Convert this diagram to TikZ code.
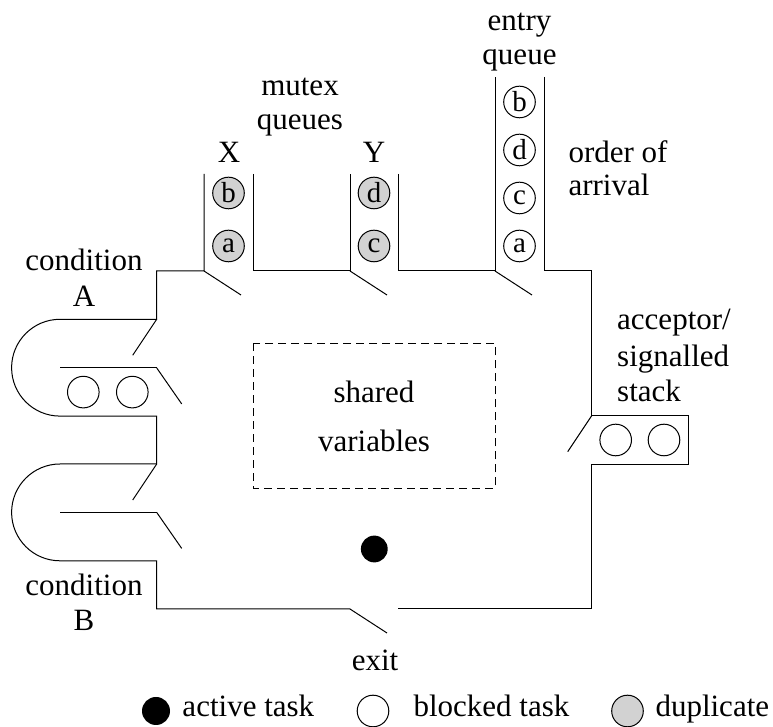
\documentclass[tikz,border=0pt]{standalone}
\usepackage{fontspec}
\setmainfont{Liberation Serif}
\usepackage{tikz}

\begin{document}
\begin{tikzpicture}[x=0.5pt, y=-0.5pt, line width=0.5pt,
		task/.style={circle, draw, minimum size=15.8pt, inner sep=0pt, font=\fontsize{14.5}{16}\selectfont},
		dup/.style={task, fill=gray!35},
		active/.style={circle, fill=black, minimum size=13.4pt, inner sep=0pt},
		lbl/.style={anchor=base, inner sep=0pt, font=\fontsize{15.5}{18}\selectfont},
		lblw/.style={lbl, anchor=base west}]
					\def\wt{271};
					\def\wl{156.7};
					\def\wr{591.7};
					\def\wb{609};
					\def\rc{24.2pt};

					\useasboundingbox (0,0) rectangle (773,727);

					\begin{scope}
						% monitor walls
						\draw (204,174) -- (204,\wt) -- (\wl,\wt) -- (\wl,319.3) -- (60,319.3)
							arc[start angle=90, end angle=270, radius=\rc] -- (\wl,416.1) -- (\wl,464) -- (60,464)
							arc[start angle=90, end angle=270, radius=\rc] -- (\wl,560.8) -- (\wl,\wb) -- (350,\wb);
						\draw (253,174) -- (253,\wt) -- (350,\wt) -- (350,174);
						\draw (398,174) -- (398,\wt) -- (495,\wt) -- (495,77);
						\draw (544,77) -- (544,\wt) -- (\wr,\wt) -- (\wr,415.7) -- (688.3,415.7)
							-- (688.3,464.3) -- (\wr,464.3) -- (\wr,\wb) -- (398.3,\wb);
						\draw (60,367.9) -- (\wl,367.9);
						\draw (60,512.4) -- (\wl,512.4);
						\draw[dash pattern=on 4pt off 2.5pt] (253,343.3) rectangle (495,488.3);
					\end{scope}

					\begin{scope}
						% gates
						\draw (204,\wt) -- ++(37,24);
						\draw (350,\wt) -- ++(37,24);
						\draw (495,\wt) -- ++(37,24);
						\draw (\wl,319.3) -- ++(-24,36);
						\draw (\wl,367.9) -- ++(25,36);
						\draw (\wl,464) -- ++(-24,36);
						\draw (\wl,512.4) -- ++(25,36);
						\draw (\wr,415.7) -- ++(-24,36);
						\draw (350,\wb) -- ++(37,24);
					\end{scope}

					\begin{scope}
						% tasks
						\node[dup] (xb) at (228.5,193) {b};
						\node[dup] (xa) at (228.5,246) {a};
						\node[dup] (yd) at (374,193) {d};
						\node[dup] (yc) at (374,246) {c};
						\node[task] (eb) at (519.5,102) {b};
						\node[task] (ed) at (519.5,150) {d};
						\node[task] (ec) at (519.5,198) {c};
						\node[task] (ea) at (519.5,246) {a};
						\node[task] (ca1) at (83.3,392.1) {};
						\node[task] (ca2) at (132.3,392.1) {};
						\node[task] (as1) at (615.7,440) {};
						\node[task] (as2) at (664,440) {};
						\node[active] (run) at (374.3,549) {};
					\end{scope}

					\begin{scope}
						% labels
						\node[lbl] (entry) at (519.5,31) {entry};
						\node[lbl] (entryq) at (519.5,65) {queue};
						\node[lbl] (mutex) at (300,96) {mutex};
						\node[lbl] (mutexq) at (300,130) {queues};
						\node[lbl] (x) at (229,163) {X};
						\node[lbl] (y) at (374,163) {Y};
						\node[lblw] (order) at (568,162.7) {order of};
						\node[lblw] (arrival) at (568,196) {arrival};
						\node[lblw] (acc) at (616.7,330) {acceptor/};
						\node[lblw] (sig) at (616.7,366.7) {signalled};
						\node[lblw] (stack) at (616.7,402) {stack};
						\node[lbl] (conda) at (84,271) {condition};
						\node[lbl] (a) at (84,306.7) {A};
						\node[lbl] (condb) at (84,596) {condition};
						\node[lbl] (b) at (84,631) {B};
						\node[lbl] (shared) at (374,403) {shared};
						\node[lbl] (vars) at (374,452) {variables};
						\node[lbl] (exit) at (375,671) {exit};
					\end{scope}

					\begin{scope}
						% legend
						\node[active, minimum size=14pt] (kact) at (156,711) {};
						\node[lblw] (tact) at (182,717) {active task};
						\node[task] (kblk) at (373,711) {};
						\node[lblw] (tblk) at (413,717) {blocked task};
						\node[dup] (kdup) at (627.5,711) {};
						\node[lblw] (tdup) at (655,717) {duplicate};
					\end{scope}
				\end{tikzpicture}
\end{document}
